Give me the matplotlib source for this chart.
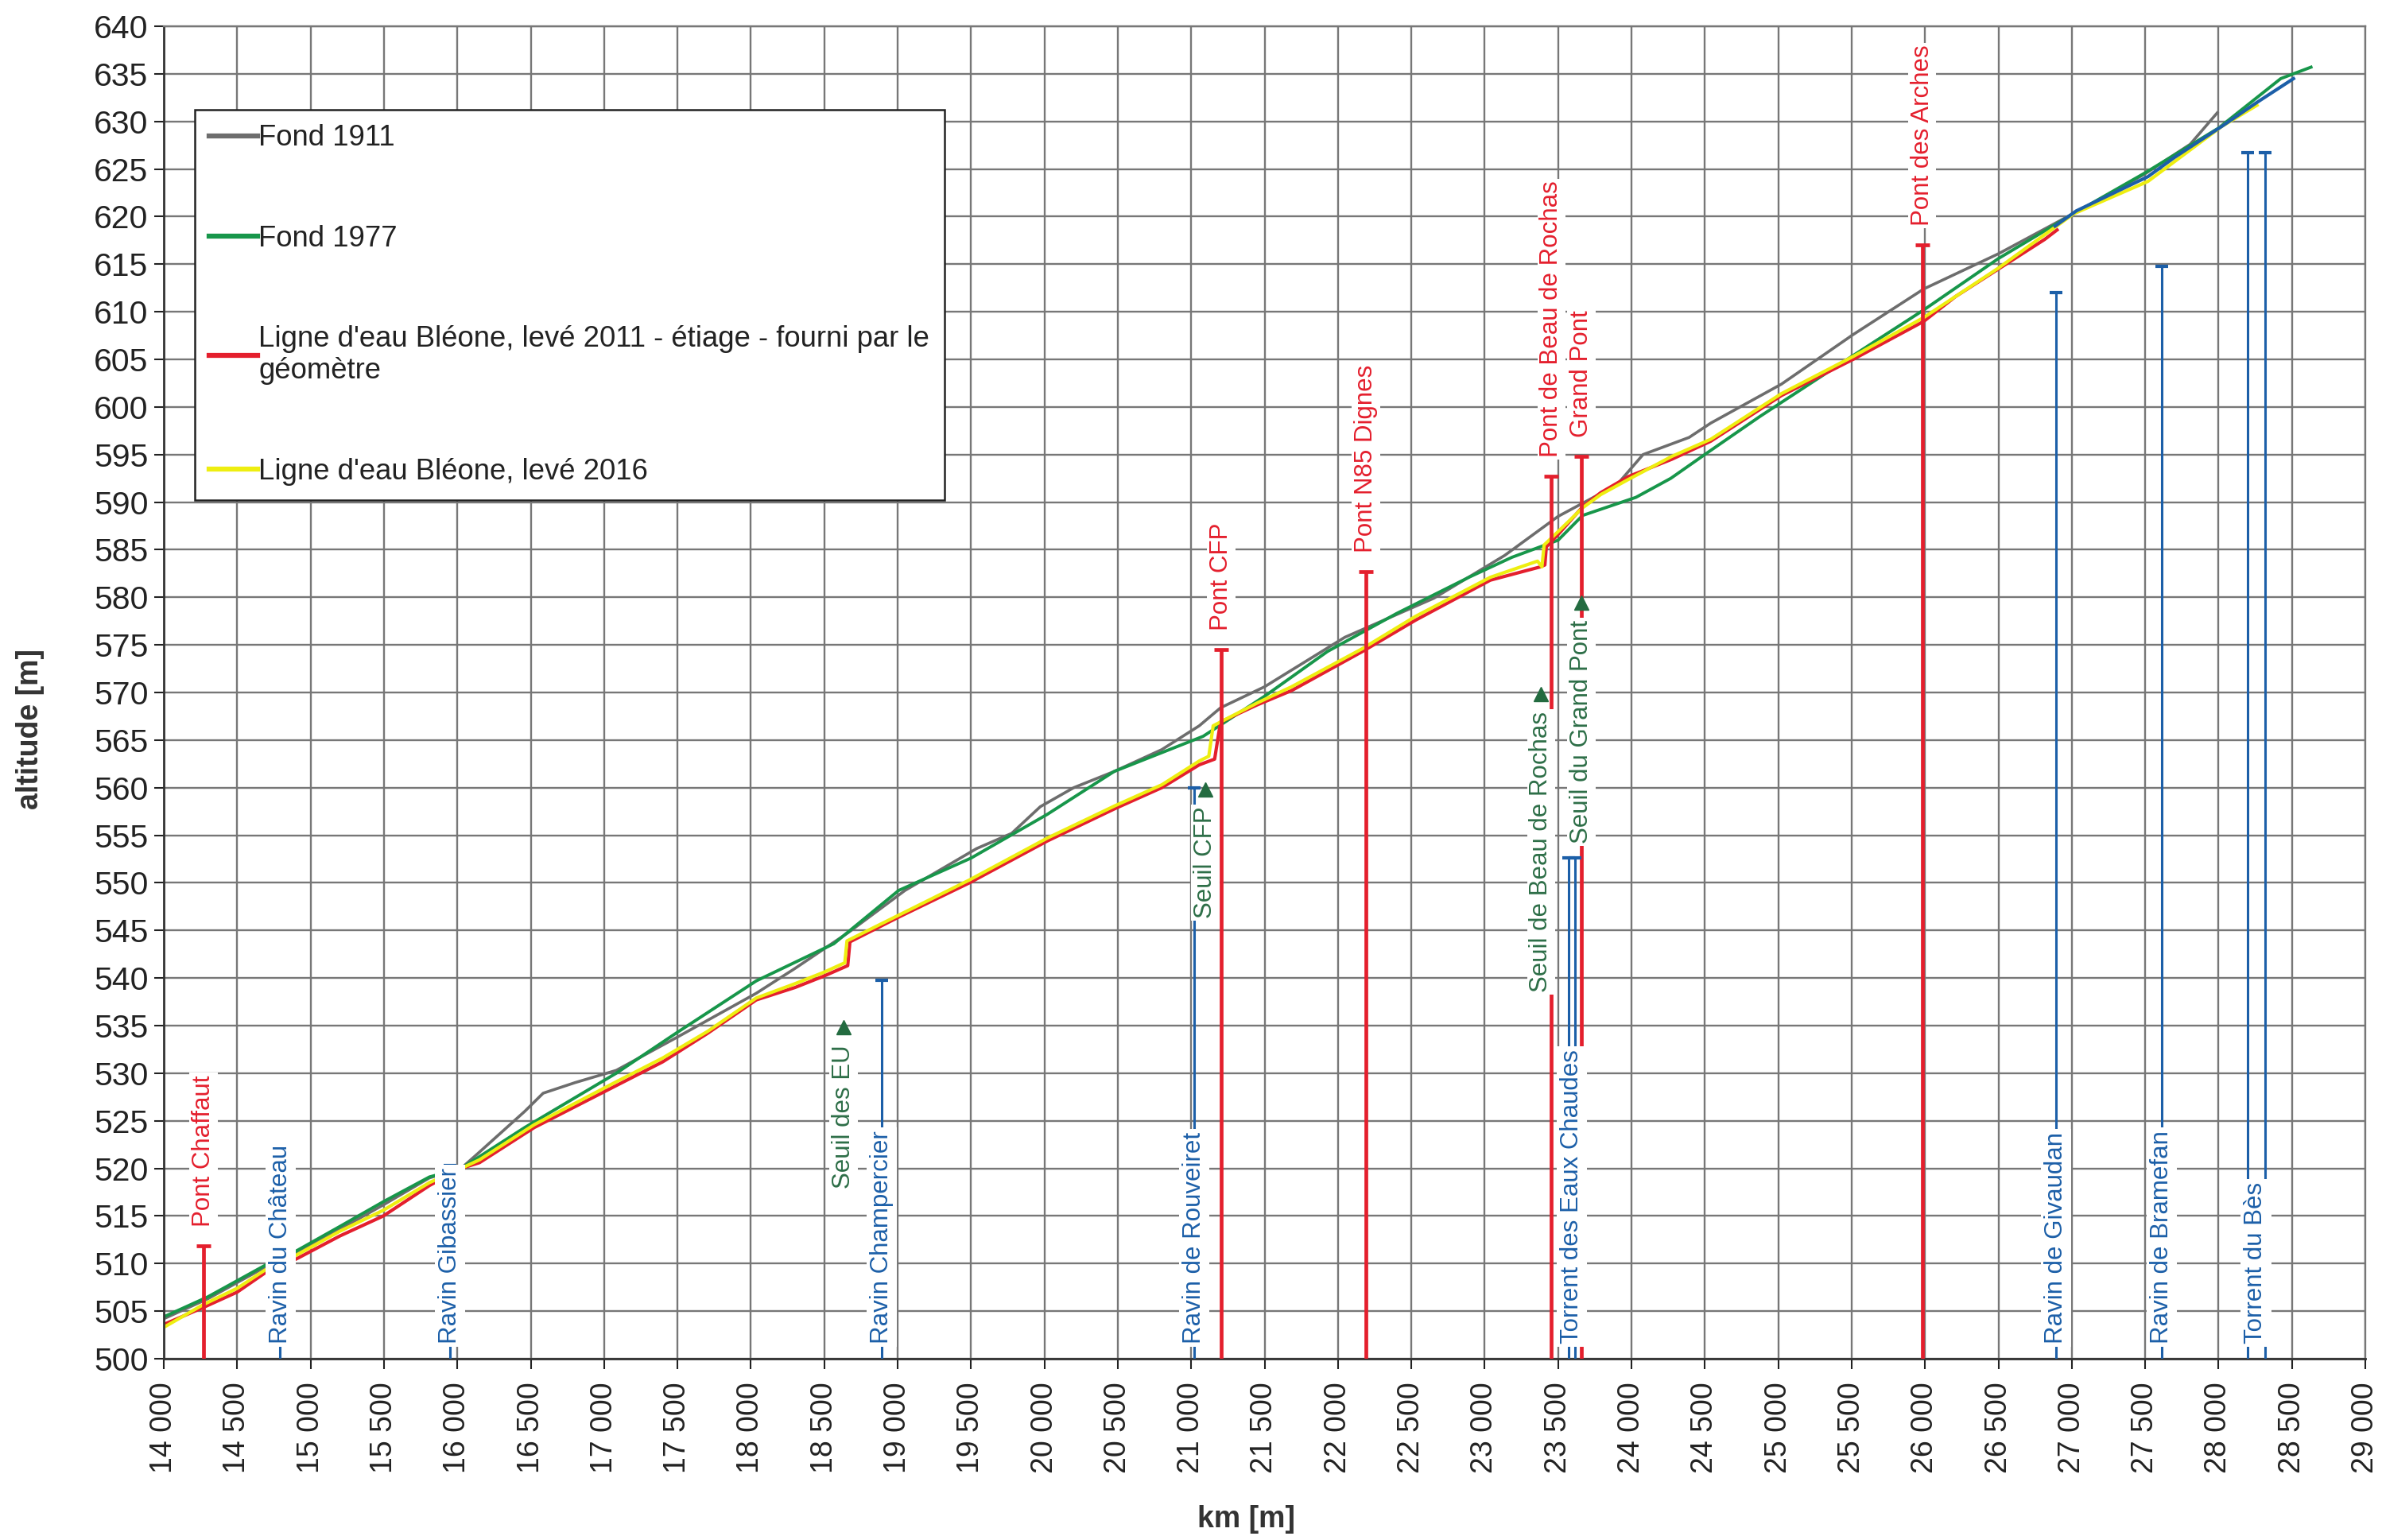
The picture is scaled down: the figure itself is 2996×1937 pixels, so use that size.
import matplotlib
matplotlib.use('Agg')
import matplotlib.pyplot as plt
import numpy as np

plt.rcParams['font.family'] = ['Liberation Sans', 'DejaVu Sans']

# --- profils en long (km [m], altitude [m]) ---
km_1911 = [14000, 14300, 14700, 14900, 15200, 15500, 15810, 16026, 16150, 16460, 16585, 16800,
           17083, 17500, 18037, 18300, 18666, 19050, 19538, 19777, 19972, 20200, 20475, 20800,
           21055, 21201, 21500, 22047, 22653, 23136, 23500, 23862, 23911, 24079, 24393, 24540,
           25022, 25510, 25992, 26501, 26815, 27200, 27500, 27807, 27991]
alt_1911 = [504.2, 506.3, 509.7, 511.1, 513.6, 516.2, 519.0, 520.0, 521.7, 526.0, 527.9, 529.0,
            530.3, 533.8, 538.4, 541.0, 544.8, 549.2, 553.6, 555.2, 558.0, 560.0, 561.7, 564.0,
            566.5, 568.4, 570.6, 575.8, 579.9, 584.4, 588.5, 591.5, 592.0, 595.0, 596.8, 598.3,
            602.4, 607.6, 612.4, 616.1, 618.7, 621.9, 624.5, 627.6, 630.9]

km_1977 = [14000, 14300, 14700, 14900, 15200, 15496, 15810, 16026, 16460, 17083, 17490, 18037,
           18565, 19007, 19500, 20020, 20475, 21082, 21500, 21928, 22400, 22892, 23185, 23500,
           23667, 24030, 24268, 24518, 24875, 25510, 25992, 26501, 27000, 27500, 28000, 28424,
           28630]
alt_1977 = [504.4, 506.5, 509.9, 511.3, 513.9, 516.5, 519.1, 520.0, 524.3, 530.0, 534.2, 539.7,
            543.6, 549.2, 552.6, 557.2, 561.7, 565.4, 569.6, 574.3, 578.3, 582.1, 584.2, 586.0,
            588.6, 590.5, 592.5, 595.2, 599.0, 605.4, 610.2, 615.6, 620.2, 624.6, 629.3, 634.5,
            635.7]

km_2011 = [14000, 14271, 14500, 14688, 14905, 15200, 15496, 15810, 16026, 16151, 16525, 17083,
           17400, 17706, 18037, 18300, 18497, 18660, 18675, 19007, 19489, 20020, 20481, 20800,
           21055, 21160, 21200, 21450, 21684, 22166, 22529, 23038, 23380, 23410, 23420, 23500,
           23667, 23791, 23981, 24274, 24540, 25022, 25510, 25992, 26208, 26501, 26815, 26900]
alt_2011 = [503.6, 505.4, 507.0, 509.0, 510.5, 512.9, 515.0, 518.2, 520.0, 520.6, 524.3, 528.7,
            531.2, 534.2, 537.7, 539.0, 540.2, 541.3, 543.8, 546.4, 550.0, 554.4, 557.8, 560.0,
            562.4, 563.0, 566.9, 568.7, 570.2, 574.3, 577.6, 581.8, 583.2, 583.4, 585.3, 586.6,
            589.5, 591.0, 592.7, 594.5, 596.4, 601.2, 605.0, 609.0, 611.6, 614.5, 617.6, 618.6]

km_2016 = [14000, 14271, 14500, 14688, 14905, 15200, 15496, 15810, 16026, 16151, 16525, 17083,
           17400, 17706, 18037, 18300, 18497, 18640, 18655, 19007, 19489, 20020, 20481, 20800,
           21055, 21120, 21150, 21450, 21684, 22166, 22529, 23038, 23360, 23390, 23405, 23500,
           23667, 23791, 23981, 24274, 24540, 25022, 25510, 25992, 26501, 27013, 27519, 28024,
           28262]
alt_2016 = [503.3, 505.7, 507.4, 509.3, 510.9, 513.4, 515.6, 518.5, 520.0, 520.9, 524.6, 529.1,
            531.6, 534.4, 537.9, 539.4, 540.6, 541.6, 543.9, 546.6, 550.3, 554.7, 558.1, 560.3,
            562.8, 563.3, 566.5, 568.9, 570.6, 574.6, 578.0, 582.1, 583.8, 583.2, 585.5, 586.9,
            589.4, 590.8, 592.4, 594.8, 596.6, 601.4, 605.3, 609.4, 614.6, 620.3, 623.7, 629.5,
            631.7]

# trace bleu amont (hors légende)
km_blue = [26886, 27031, 27519, 27698, 28024, 28262, 28511]
alt_blue = [619.0, 620.6, 624.2, 626.2, 629.5, 632.0, 634.5]

# --- ouvrages ---
ponts = ['Pont Chaffaut', 'Pont CFP', 'Pont N85 Dignes', 'Pont de Beau de Rochas',
         'Grand Pont', 'Pont des Arches']
ponts_km = [14271, 21205, 22190, 23455, 23660, 25980]
ponts_alt = [511.9, 574.5, 582.7, 592.7, 594.8, 617.0]

seuils = ['Seuil des EU', 'Seuil CFP', 'Seuil de Beau de Rochas', 'Seuil du Grand Pont']
seuils_km = [18630, 21095, 23385, 23660]
seuils_alt = [534.8, 559.8, 569.8, 579.4]

# affluents : traits verticaux
affl_km = [14790, 15950, 18890, 21020, 23574, 23616, 26893, 27612, 28196, 28315]
affl_alt = [515.0, 520.3, 539.8, 560.0, 552.6, 552.6, 612.0, 614.8, 626.7, 626.7]
# affluents : étiquettes
affl_names = ['Ravin du Château', 'Ravin Gibassier', 'Ravin Champercier', 'Ravin de Rouveiret',
              'Torrent des Eaux Chaudes', 'Ravin de Givaudan', 'Ravin de Bramefan', 'Torrent du Bès']
affl_lab_km = [14795, 15950, 18890, 21020, 23596, 26893, 27612, 28255]

RED = '#e41f2d'
BLUE = '#1c5fa8'
GREEN_TXT = '#2d6e47'

fig = plt.figure(figsize=(29.96, 19.37), dpi=100)
ax = fig.add_axes([206/2996, 1 - 1709/1937, (2975 - 206)/2996, (1709 - 33)/1937])

l1, = ax.plot(km_1911, alt_1911, color='#6d6d6d', lw=2.6, zorder=2, label='Fond 1911')
l2, = ax.plot(km_1977, alt_1977, color='#17964a', lw=2.8, zorder=2.1, label='Fond 1977')
l3, = ax.plot(km_2011, alt_2011, color=RED, lw=3.0, zorder=2.2,
              label="Ligne d'eau Bléone, levé 2011 - étiage - fourni par le\ngéomètre")
l4, = ax.plot(km_2016, alt_2016, color='#eeee10', lw=3.0, zorder=2.3,
              label="Ligne d'eau Bléone, levé 2016")
ax.plot(km_blue, alt_blue, color=BLUE, lw=3.0, zorder=2.4)

# ponts
ax.vlines(ponts_km, 500, ponts_alt, color=RED, lw=3.4, zorder=3)
ax.plot(ponts_km, ponts_alt, ls='none', marker='_', ms=13, mew=3.4, color=RED, zorder=3)
for name, x, y in zip(ponts, ponts_km, ponts_alt):
    ax.text(x, y + 2.0, name, rotation=90, ha='center', va='bottom', fontsize=22.5,
            color=RED, zorder=6, bbox=dict(facecolor='white', edgecolor='none', pad=2))

# affluents
ax.vlines(affl_km, 500, affl_alt, color=BLUE, lw=2.2, zorder=3)
ax.plot(affl_km, affl_alt, ls='none', marker='_', ms=12, mew=3, color=BLUE, zorder=3)
for name, x in zip(affl_names, affl_lab_km):
    ax.text(x, 501.6, name, rotation=90, ha='center', va='bottom', fontsize=22.5,
            color=BLUE, zorder=6, bbox=dict(facecolor='white', edgecolor='none', pad=3))

# seuils
for name, x, y in zip(seuils, seuils_km, seuils_alt):
    ax.text(x, y - 1.8, name, rotation=90, ha='center', va='top', fontsize=22.5,
            color=GREEN_TXT, zorder=6, bbox=dict(facecolor='white', edgecolor='none', pad=2))
ax.plot(seuils_km, seuils_alt, ls='none', marker='^', ms=13, color='#236b40', zorder=7)

ax.set_xlim(14000, 29000)
ax.set_ylim(500, 640)
xt = np.arange(14000, 29001, 500)
ax.set_xticks(xt)
ax.set_xticklabels([f'{v:,}'.replace(',', ' ') for v in xt], rotation=90)
ax.set_yticks(np.arange(500, 641, 5))
ax.tick_params(axis='x', labelsize=27, length=9, width=1.5, pad=12, colors='#222222')
ax.tick_params(axis='y', labelsize=29.5, length=9, width=1.5, pad=5, colors='#222222')

ax.grid(True, color='#777777', lw=1.7)
ax.set_axisbelow(True)
for s in ['left', 'bottom']:
    ax.spines[s].set_color('#333333')
    ax.spines[s].set_linewidth(2)
for s in ['top', 'right']:
    ax.spines[s].set_color('#777777')
    ax.spines[s].set_linewidth(1.7)

fig.text(38/2996, 1 - 917/1937, 'altitude [m]', rotation=90, ha='center', va='center',
         fontsize=27, fontweight='bold', color='#333333')
fig.text(1567/2996, 1 - 1911/1937, 'km [m]', ha='center', va='center',
         fontsize=27, fontweight='bold', color='#333333')

leg = ax.legend(handles=[l1, l2, l3, l4], loc='upper left', bbox_to_anchor=(0.0141, 0.9373),
                borderaxespad=0, fontsize=26.3, frameon=True, fancybox=False, framealpha=1,
                edgecolor='#222222', handlelength=1.65, handletextpad=0.05, labelspacing=2.5,
                borderpad=0.5)
leg.get_frame().set_linewidth(1.8)
leg.set_zorder(10)
for t in leg.get_texts():
    t.set_color('#222222')
for h in leg.get_lines():
    h.set_linewidth(4.5)

fig.savefig('out.png', dpi=100)
